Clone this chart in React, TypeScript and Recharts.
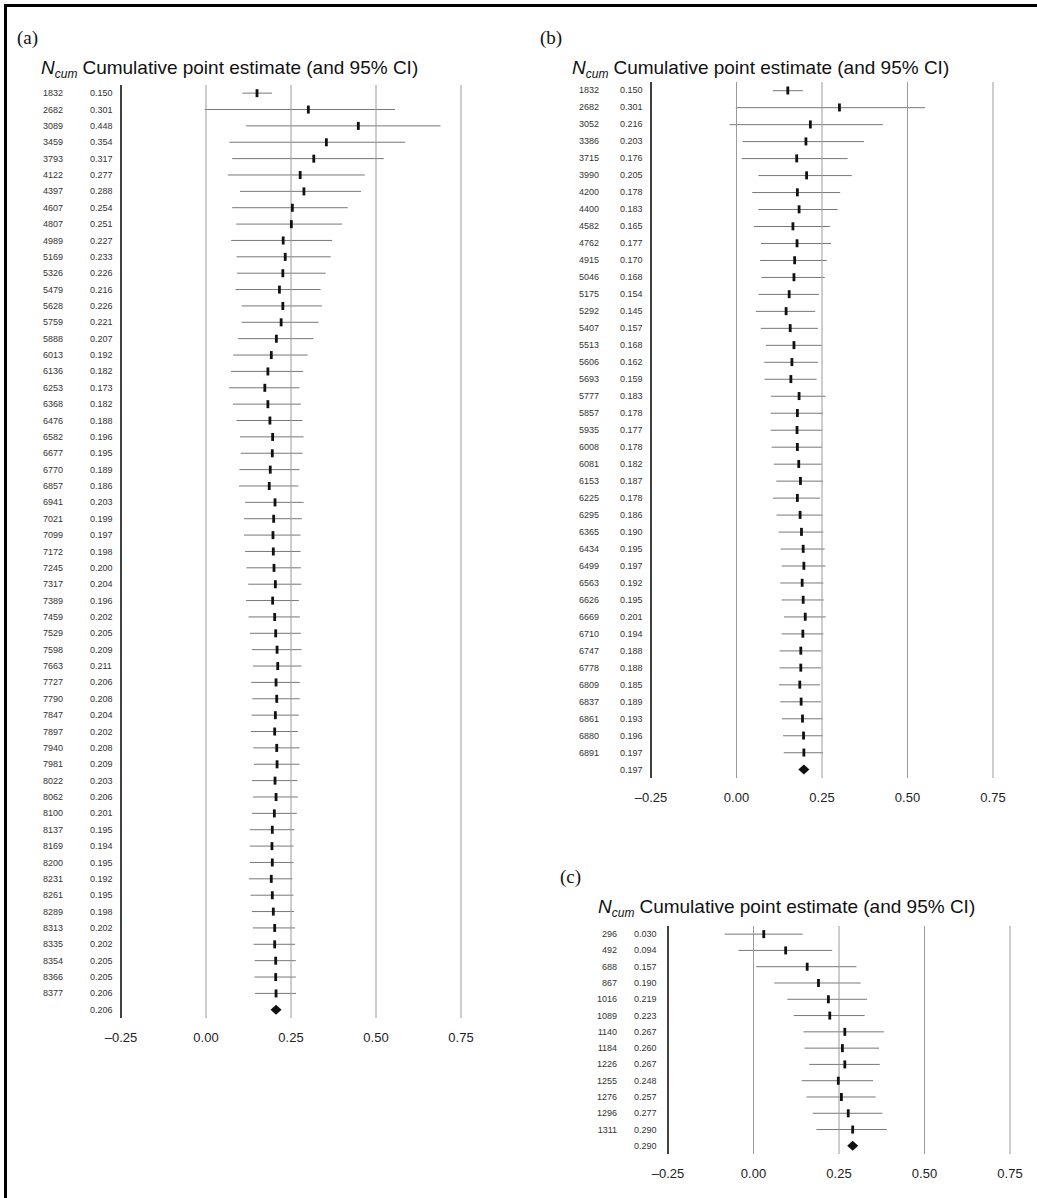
import React from "react";
import { ComposedChart, XAxis, YAxis, Bar, Scatter, ReferenceLine } from "recharts";

// (a) all studies
const nA = [1832, 2682, 3089, 3459, 3793, 4122, 4397, 4607, 4807, 4989, 5169, 5326, 5479, 5628, 5759, 5888, 6013, 6136, 6253, 6368, 6476, 6582, 6677, 6770, 6857, 6941, 7021, 7099, 7172, 7245, 7317, 7389, 7459, 7529, 7598, 7663, 7727, 7790, 7847, 7897, 7940, 7981, 8022, 8062, 8100, 8137, 8169, 8200, 8231, 8261, 8289, 8313, 8335, 8354, 8366, 8377];
const estA = [0.150, 0.301, 0.448, 0.354, 0.317, 0.277, 0.288, 0.254, 0.251, 0.227, 0.233, 0.226, 0.216, 0.226, 0.221, 0.207, 0.192, 0.182, 0.173, 0.182, 0.188, 0.196, 0.195, 0.189, 0.186, 0.203, 0.199, 0.197, 0.198, 0.200, 0.204, 0.196, 0.202, 0.205, 0.209, 0.211, 0.206, 0.208, 0.204, 0.202, 0.208, 0.209, 0.203, 0.206, 0.201, 0.195, 0.194, 0.195, 0.192, 0.195, 0.198, 0.202, 0.202, 0.205, 0.205, 0.206];
const loA = [0.107, -0.004, 0.118, 0.069, 0.077, 0.064, 0.100, 0.077, 0.089, 0.074, 0.090, 0.091, 0.087, 0.105, 0.105, 0.094, 0.080, 0.074, 0.068, 0.079, 0.090, 0.100, 0.102, 0.098, 0.097, 0.115, 0.112, 0.112, 0.115, 0.119, 0.124, 0.118, 0.125, 0.129, 0.135, 0.138, 0.133, 0.136, 0.134, 0.132, 0.139, 0.141, 0.135, 0.138, 0.135, 0.129, 0.129, 0.129, 0.126, 0.131, 0.135, 0.138, 0.140, 0.143, 0.143, 0.144];
const hiA = [0.194, 0.556, 0.690, 0.586, 0.523, 0.467, 0.456, 0.417, 0.400, 0.371, 0.367, 0.352, 0.337, 0.341, 0.331, 0.316, 0.299, 0.286, 0.275, 0.279, 0.283, 0.287, 0.284, 0.275, 0.272, 0.287, 0.282, 0.278, 0.278, 0.279, 0.281, 0.273, 0.276, 0.279, 0.281, 0.281, 0.276, 0.276, 0.273, 0.270, 0.275, 0.275, 0.269, 0.270, 0.267, 0.260, 0.257, 0.257, 0.254, 0.257, 0.259, 0.262, 0.262, 0.264, 0.264, 0.265];
const pooledA = 0.206;

// (b)
const nB = [1832, 2682, 3052, 3386, 3715, 3990, 4200, 4400, 4582, 4762, 4915, 5046, 5175, 5292, 5407, 5513, 5606, 5693, 5777, 5857, 5935, 6008, 6081, 6153, 6225, 6295, 6365, 6434, 6499, 6563, 6626, 6669, 6710, 6747, 6778, 6809, 6837, 6861, 6880, 6891];
const estB = [0.150, 0.301, 0.216, 0.203, 0.176, 0.205, 0.178, 0.183, 0.165, 0.177, 0.170, 0.168, 0.154, 0.145, 0.157, 0.168, 0.162, 0.159, 0.183, 0.178, 0.177, 0.178, 0.182, 0.187, 0.178, 0.186, 0.190, 0.195, 0.197, 0.192, 0.195, 0.201, 0.194, 0.188, 0.188, 0.185, 0.189, 0.193, 0.196, 0.197];
const loB = [0.106, -0.002, -0.020, 0.018, 0.015, 0.064, 0.046, 0.064, 0.051, 0.071, 0.069, 0.073, 0.064, 0.057, 0.071, 0.086, 0.081, 0.082, 0.101, 0.100, 0.100, 0.103, 0.109, 0.116, 0.107, 0.117, 0.123, 0.129, 0.132, 0.128, 0.132, 0.139, 0.132, 0.126, 0.126, 0.124, 0.128, 0.133, 0.136, 0.138];
const hiB = [0.194, 0.551, 0.428, 0.373, 0.325, 0.337, 0.303, 0.296, 0.273, 0.277, 0.264, 0.258, 0.241, 0.230, 0.238, 0.249, 0.238, 0.234, 0.260, 0.253, 0.250, 0.250, 0.250, 0.253, 0.244, 0.251, 0.254, 0.258, 0.260, 0.254, 0.255, 0.261, 0.254, 0.248, 0.248, 0.244, 0.247, 0.251, 0.253, 0.253];
const pooledB = 0.197;

// (c)
const nC = [296, 492, 688, 867, 1016, 1089, 1140, 1184, 1226, 1255, 1276, 1296, 1311];
const estC = [0.030, 0.094, 0.157, 0.190, 0.219, 0.223, 0.267, 0.260, 0.267, 0.248, 0.257, 0.277, 0.290];
const loC = [-0.084, -0.044, 0.008, 0.061, 0.099, 0.118, 0.146, 0.149, 0.163, 0.141, 0.155, 0.173, 0.184];
const hiC = [0.144, 0.230, 0.301, 0.313, 0.332, 0.325, 0.381, 0.367, 0.369, 0.350, 0.357, 0.377, 0.390];
const pooledC = 0.290;

const xTicks = [-0.25, 0, 0.25, 0.5, 0.75];
const gridX = [0, 0.25, 0.5, 0.75];

const W = 1037;
const H = 1198;
const X_AXIS_H = 34;
const SANS = '"Liberation Sans", Arial, Helvetica, sans-serif';

type Row = {
  key: string;
  n: number | null;
  est: number;
  ci: [number, number] | null;
  pooled: boolean;
};

function buildRows(n: number[], est: number[], lo: number[], hi: number[], pooled: number): Row[] {
  const rows: Row[] = n.map((v, i) => ({
    key: String(i),
    n: v,
    est: est[i],
    ci: [lo[i], hi[i]],
    pooled: false,
  }));
  rows.push({ key: "pooled", n: null, est: pooled, ci: null, pooled: true });
  return rows;
}

const fmtTick = (v: number) => (v < 0 ? "\u2013" + Math.abs(v).toFixed(2) : v.toFixed(2));

const CiShape = (p: any) => {
  if (!p.payload || !p.payload.ci || !isFinite(p.width)) return <g />;
  const y = p.y + p.height / 2;
  return <line x1={p.x} x2={p.x + p.width} y1={y} y2={y} stroke="#777" strokeWidth={1} />;
};

const EstShape = (p: any) => {
  const { cx, cy, payload } = p;
  if (payload && payload.pooled) {
    return (
      <polygon
        points={`${cx - 5.5},${cy} ${cx},${cy - 5} ${cx + 5.5},${cy} ${cx},${cy + 5}`}
        fill="#111"
      />
    );
  }
  return <rect x={cx - 1.4} y={cy - 4} width={2.8} height={8} fill="#111" />;
};

type PanelProps = {
  rows: Row[];
  label: string;
  labelX: number;
  labelY: number;
  headerX: number;
  headerY: number;
  plot: { left: number; right: number; top: number; bottom: number };
  nRight: number;
  valLeft: number;
};

function Panel({ rows, label, labelX, labelY, headerX, headerY, plot, nRight, valLeft }: PanelProps) {
  return (
    <>
      <div
        style={{
          position: "absolute",
          left: labelX,
          top: labelY - 11,
          fontFamily: '"Liberation Serif", "Times New Roman", serif',
          fontSize: 19,
          lineHeight: "22px",
          color: "#111",
        }}
      >
        {label}
      </div>
      <div
        style={{
          position: "absolute",
          left: headerX,
          top: headerY - 12,
          fontFamily: SANS,
          fontSize: 19,
          lineHeight: "24px",
          whiteSpace: "nowrap",
          color: "#111",
        }}
      >
        <i>N</i>
        <i style={{ fontSize: 12, position: "relative", top: 4 }}>cum</i>
        <span style={{ marginLeft: 5 }}>Cumulative point estimate (and 95% CI)</span>
      </div>
      <div style={{ position: "absolute", left: 0, top: 0 }}>
        <ComposedChart
          width={W}
          height={H}
          data={rows}
          layout="vertical"
          margin={{ top: plot.top, right: W - plot.right, bottom: H - plot.bottom - X_AXIS_H, left: 0 }}
        >
          <XAxis
            type="number"
            domain={[-0.25, 0.75]}
            ticks={xTicks}
            allowDataOverflow
            axisLine={false}
            tickLine={false}
            height={X_AXIS_H}
            tick={(p: any) => (
              <text
                x={p.x}
                y={plot.bottom + 19}
                textAnchor="middle"
                dominantBaseline="central"
                fontFamily={SANS}
                fontSize={13}
                fill="#222"
              >
                {fmtTick(p.payload.value)}
              </text>
            )}
          />
          <YAxis
            type="category"
            dataKey="key"
            width={plot.left}
            interval={0}
            tickLine={false}
            axisLine={{ stroke: "#000", strokeWidth: 1.5 }}
            tick={(p: any) => {
              const r = rows.find((row) => row.key === p.payload.value);
              if (!r) return <g />;
              return (
                <g>
                  {r.n !== null && (
                    <text x={nRight} y={p.y} textAnchor="end" dominantBaseline="central" fontFamily={SANS} fontSize={9} fill="#333">
                      {r.n}
                    </text>
                  )}
                  <text x={valLeft} y={p.y} textAnchor="start" dominantBaseline="central" fontFamily={SANS} fontSize={9} fill="#333">
                    {r.est.toFixed(3)}
                  </text>
                </g>
              );
            }}
          />
          {gridX.map((v) => (
            <ReferenceLine key={v} x={v} stroke="#9a9a9a" strokeWidth={1} />
          ))}
          <Bar dataKey="ci" isAnimationActive={false} shape={CiShape} />
          <Scatter dataKey="est" isAnimationActive={false} shape={EstShape} />
        </ComposedChart>
      </div>
    </>
  );
}

const rowsA = buildRows(nA, estA, loA, hiA, pooledA);
const rowsB = buildRows(nB, estB, loB, hiB, pooledB);
const rowsC = buildRows(nC, estC, loC, hiC, pooledC);

export default function App() {
  return (
    <div style={{ position: "absolute", left: 0, top: 0, width: W, height: H, background: "#fff", overflow: "hidden" }}>
      <div style={{ position: "absolute", left: 4, top: 4, right: 0, bottom: 0, borderTop: "3px solid #000", borderLeft: "3px solid #000" }} />
      <Panel
        rows={rowsA}
        label="(a)"
        labelX={17}
        labelY={38}
        headerX={41}
        headerY={68}
        plot={{ left: 121, right: 461, top: 85, bottom: 1018 }}
        nRight={63}
        valLeft={90}
      />
      <Panel
        rows={rowsB}
        label="(b)"
        labelX={540}
        labelY={38}
        headerX={572}
        headerY={68}
        plot={{ left: 651, right: 993, top: 82, bottom: 778 }}
        nRight={599}
        valLeft={620}
      />
      <Panel
        rows={rowsC}
        label="(c)"
        labelX={560}
        labelY={877}
        headerX={598}
        headerY={907}
        plot={{ left: 668, right: 1010, top: 926, bottom: 1154 }}
        nRight={617}
        valLeft={634}
      />
    </div>
  );
}
